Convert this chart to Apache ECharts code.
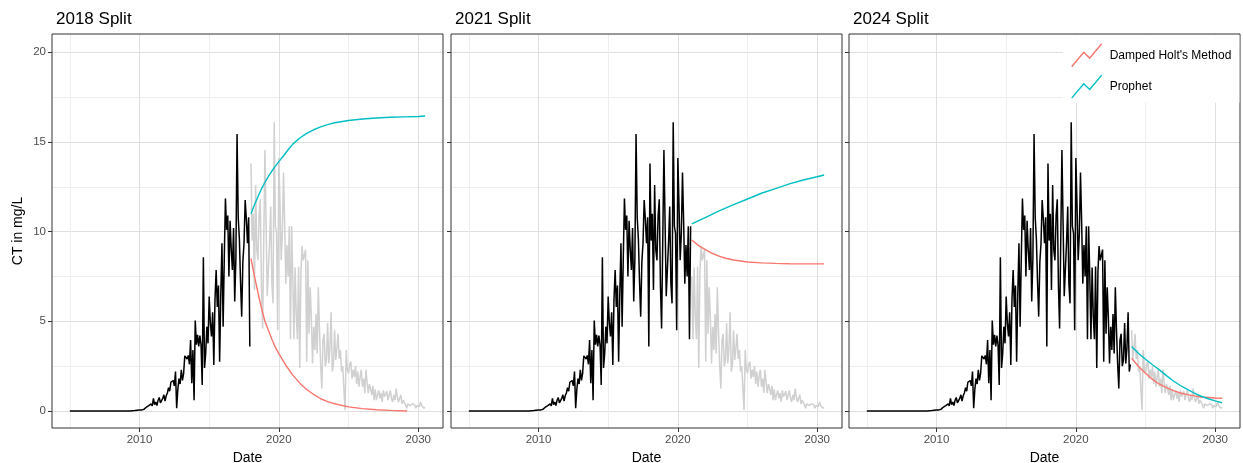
<!DOCTYPE html>
<html>
<head>
<meta charset="utf-8">
<script src="https://cdn.jsdelivr.net/npm/echarts@6/dist/echarts.min.js"></script>
<style>
html,body{margin:0;padding:0;background:#fff;}
#chart{width:1243px;height:463px;}
</style>
</head>
<body>
<div id="chart"></div>
<script>
// ---- data ----
const splitYears = [2018, 2021, 2024];
const panelTitles = ['2018 Split', '2021 Split', '2024 Split'];
const obsStartYear = 2005; // monthly observations
const obsValues = [
  0,0,0,0,0,0,0,0,0,0,0,0,
  0,0,0,0,0,0,0,0,0,0,0,0,
  0,0,0,0,0,0,0,0,0,0,0,0,
  0,0,0,0,0,0,0,0,0,0,0,0,
  0,0,0,0,0,0,0.01,0.02,0.02,0.03,0.04,0.05,
  0.05,0.08,0.06,0.12,0.1,0.18,0.22,0.15,0.3,0.25,0.4,0.28,
  0.7,0.35,0.5,0.3,0.6,0.75,0.45,0.4,0.7,0.9,0.55,0.85,
  1.0,1.3,1.1,1.6,1.5,1.7,1.4,2.2,0.15,1.2,1.8,1.5,
  2.3,1.7,2.1,3.07,3.0,2.9,3.1,2.6,3.96,1.54,3.4,0.6,
  5.04,3.7,4.24,3.6,4.2,3.68,1.45,8.57,2.4,3.2,4.7,3.77,
  6.38,4.9,4.15,5.5,2.56,6.2,7.86,5.8,7.0,2.75,6.5,9.35,
  4.7,8.5,11.85,10.1,10.9,7.5,10.6,9.0,7.86,10.2,6.1,8.5,
  15.45,10.8,9.6,7.2,5.26,8.3,9.35,11.76,10.7,9.35,10.8,3.6,
  13.8,9.5,11.0,6.75,12.6,9.0,8.4,10.9,11.8,7.0,4.6,9.5,
  14.55,10.5,6.4,7.9,9.4,11.4,7.1,6.0,16.1,10.3,9.9,4.5,
  14.1,11.5,8.4,9.9,13.3,10.5,7.1,9.25,7.5,10.3,4.0,10.3,
  7.5,4.0,8.0,5.3,4.0,8.05,2.4,7.7,9.2,8.4,8.5,9.0,
  2.75,8.4,4.3,6.9,5.2,2.65,4.7,3.4,5.4,3.2,6.9,4.5,
  2.6,1.25,3.95,4.3,2.5,2.85,4.9,2.65,3.5,5.5,2.2,2.6,
  4.5,2.85,3.5,4.3,2.9,3.4,2.2,2.5,2.5,0.05,3.4,2.3,
  2.1,2.6,2.75,1.8,2.3,1.9,2.5,1.5,2.2,1.35,1.9,2.3,
  1.35,1.8,1.0,2.3,1.6,1.0,1.5,1.25,0.9,1.4,0.6,1.2,
  0.6,0.9,1.15,0.7,1.0,0.5,1.15,0.8,0.7,1.1,0.6,0.9,
  1.15,0.7,0.5,0.9,0.6,1.25,0.8,0.5,0.6,0.9,0.4,0.6,
  0.6,0.35,0.15,0.4,0.5,0.3,0.2,0.4,0.5,0.35,0.15,0.3,
  0.35,0.25,0.5,0.3,0.2,0.15,0.2
];

const holt2018Years = [2018,2018.25,2018.5,2018.75,2019,2019.25,2019.5,2019.75,2020,2020.5,2021,2021.5,2022,2022.5,2023,2023.5,2024,2025,2026,2027,2028,2029.2];
const holt2018Values = [8.5,7.5,6.6,5.75,5.0,4.5,4.0,3.55,3.2,2.55,2.0,1.55,1.2,0.92,0.68,0.52,0.4,0.23,0.13,0.07,0.03,0.0];
const prophet2018Years = [2018,2018.25,2018.5,2018.75,2019,2019.25,2019.5,2019.75,2020,2020.25,2020.5,2020.75,2021,2021.5,2022,2022.5,2023,2023.5,2024,2025,2026,2027,2028,2029,2030,2030.5];
const prophet2018Values = [11.0,11.5,11.95,12.38,12.75,13.08,13.38,13.65,13.9,14.15,14.4,14.65,14.88,15.22,15.48,15.68,15.84,15.97,16.07,16.2,16.28,16.34,16.38,16.4,16.42,16.45];

const holt2021Years = [2021,2021.5,2022,2022.5,2023,2023.5,2024,2025,2026,2027,2028,2029,2030.5];
const holt2021Values = [9.53,9.22,8.98,8.78,8.62,8.5,8.42,8.31,8.26,8.23,8.21,8.2,8.2];
const prophet2021Years = [2021,2022,2023,2024,2025,2026,2027,2028,2029,2030,2030.5];
const prophet2021Values = [10.43,10.8,11.17,11.5,11.82,12.14,12.4,12.66,12.88,13.06,13.16];

const holt2024Years = [2024,2024.5,2025,2025.5,2026,2026.5,2027,2027.5,2028,2028.5,2029,2029.5,2030,2030.5];
const holt2024Values = [2.94,2.48,2.1,1.76,1.49,1.3,1.13,1.0,0.91,0.84,0.78,0.75,0.72,0.71];
const prophet2024Years = [2024,2024.5,2025,2025.5,2026,2026.5,2027,2027.5,2028,2028.5,2029,2029.5,2030,2030.5];
const prophet2024Values = [3.59,3.2,2.88,2.58,2.29,1.97,1.67,1.42,1.21,1.0,0.82,0.68,0.56,0.46];

const xMajorTicks = [2010, 2020, 2030];
const xMinorBreaks = [2005, 2015, 2025];
const yMajorTicks = [0, 5, 10, 15, 20];
const yMinorBreaks = [2.5, 7.5, 12.5, 17.5];

const holtName = "Damped Holt's Method";
const prophetName = 'Prophet';

// ---- build ----
const FONT = 'Liberation Sans, Arial, Helvetica, sans-serif';
const X_MIN = 2003.72, X_MAX = 2031.78;
const Y_MIN = -0.95, Y_MAX = 21.02;
const obsPairs = obsValues.map((v, i) => [obsStartYear + i / 12, v]);
const zip = (xs, ys) => xs.map((x, i) => [x, ys[i]]);
const forecasts = [
  [zip(holt2018Years, holt2018Values), zip(prophet2018Years, prophet2018Values)],
  [zip(holt2021Years, holt2021Values), zip(prophet2021Years, prophet2021Values)],
  [zip(holt2024Years, holt2024Values), zip(prophet2024Years, prophet2024Values)]
];

const gridLefts = [52, 451, 849];
const grids = [], xAxes = [], yAxes = [], series = [], titles = [];
const majorColor = '#DFDFDF', minorColor = '#EEEEEE';

splitYears.forEach((sy, i) => {
  grids.push({left: gridLefts[i], top: 34, width: 391, height: 394, show: true,
    outerBoundsMode: 'none', containLabel: false,
    borderColor: '#333', borderWidth: 1, backgroundColor: 'transparent', z: 3});
  titles.push({text: panelTitles[i], left: gridLefts[i] - 1, top: 6,
    textStyle: {fontSize: 17, fontWeight: 'normal', color: '#000', fontFamily: FONT}});
  xAxes.push({type: 'value', gridIndex: i, min: X_MIN, max: X_MAX, position: 'bottom',
    axisLine: {show: false, onZero: false},
    axisTick: {show: true, customValues: xMajorTicks, length: 4, lineStyle: {color: '#333', width: 1}},
    axisLabel: {customValues: xMajorTicks, color: '#4D4D4D', fontSize: 11.5, margin: 6, fontFamily: FONT,
      formatter: v => String(v)},
    splitLine: {show: true, lineStyle: {color: majorColor, width: 1}},
    name: 'Date', nameLocation: 'middle', nameGap: 19,
    nameTextStyle: {fontSize: 14, color: '#000', fontFamily: FONT}});
  xAxes.push({type: 'value', gridIndex: i, min: X_MIN, max: X_MAX,
    axisLine: {show: false, onZero: false},
    axisTick: {show: false, customValues: xMinorBreaks},
    axisLabel: {show: false},
    splitLine: {show: true, lineStyle: {color: minorColor, width: 1}}});
  yAxes.push({type: 'value', gridIndex: i, min: Y_MIN, max: Y_MAX, position: 'left',
    axisLine: {show: false, onZero: false},
    axisTick: {show: true, customValues: yMajorTicks, length: 4, lineStyle: {color: '#333', width: 1}},
    axisLabel: {show: i === 0, customValues: yMajorTicks, color: '#4D4D4D', fontSize: 11.5, margin: 6,
      fontFamily: FONT, formatter: v => String(v)},
    splitLine: {show: true, lineStyle: {color: majorColor, width: 1}},
    name: i === 0 ? 'CT in mg/L' : '', nameLocation: 'middle', nameGap: 27,
    nameTextStyle: {fontSize: 14, color: '#000', fontFamily: FONT}});
  yAxes.push({type: 'value', gridIndex: i, min: Y_MIN, max: Y_MAX,
    axisLine: {show: false, onZero: false},
    axisTick: {show: false, customValues: yMinorBreaks},
    axisLabel: {show: false},
    splitLine: {show: true, lineStyle: {color: minorColor, width: 1}}});

  const common = {type: 'line', xAxisIndex: 2 * i, yAxisIndex: 2 * i, showSymbol: false,
    symbol: 'none', silent: true, animation: false};
  series.push(Object.assign({}, common, {name: 'Training', z: 2,
    data: obsPairs.filter(p => p[0] < sy), lineStyle: {color: '#000', width: 1.5}, itemStyle: {color: '#000'}}));
  series.push(Object.assign({}, common, {name: 'Test', z: 2,
    data: obsPairs.filter(p => p[0] >= sy), lineStyle: {color: '#D0D0D0', width: 1.5}, itemStyle: {color: '#D0D0D0'}}));
  series.push(Object.assign({}, common, {name: holtName, z: 3,
    data: forecasts[i][0], lineStyle: {color: '#F8766D', width: 1.4}, itemStyle: {color: '#F8766D'}}));
  series.push(Object.assign({}, common, {name: prophetName, z: 3,
    data: forecasts[i][1], lineStyle: {color: '#00BFC4', width: 1.4}, itemStyle: {color: '#00BFC4'}}));
});

const zig = 'path://M0,23L12,8.6L18,14.4L30,0';
const option = {
  backgroundColor: '#fff',
  animation: false,
  textStyle: {fontFamily: FONT},
  title: titles,
  grid: grids,
  xAxis: xAxes,
  yAxis: yAxes,
  legend: {
    orient: 'vertical', left: 1063, top: 35, itemWidth: 30, itemHeight: 23, itemGap: 7,
    padding: [8, 8, 4, 8], backgroundColor: '#fff', selectedMode: false,
    textStyle: {fontSize: 12, color: '#000', fontFamily: FONT, padding: [0, 0, 0, 3]},
    data: [
      {name: holtName, icon: zig, itemStyle: {color: 'transparent', borderColor: '#F8766D', borderWidth: 1.4}},
      {name: prophetName, icon: zig, itemStyle: {color: 'transparent', borderColor: '#00BFC4', borderWidth: 1.4}}
    ]
  },
  series: series
};
const chart = echarts.init(document.getElementById('chart'), null, {renderer: 'canvas'});
chart.setOption(option);
</script>
</body>
</html>
